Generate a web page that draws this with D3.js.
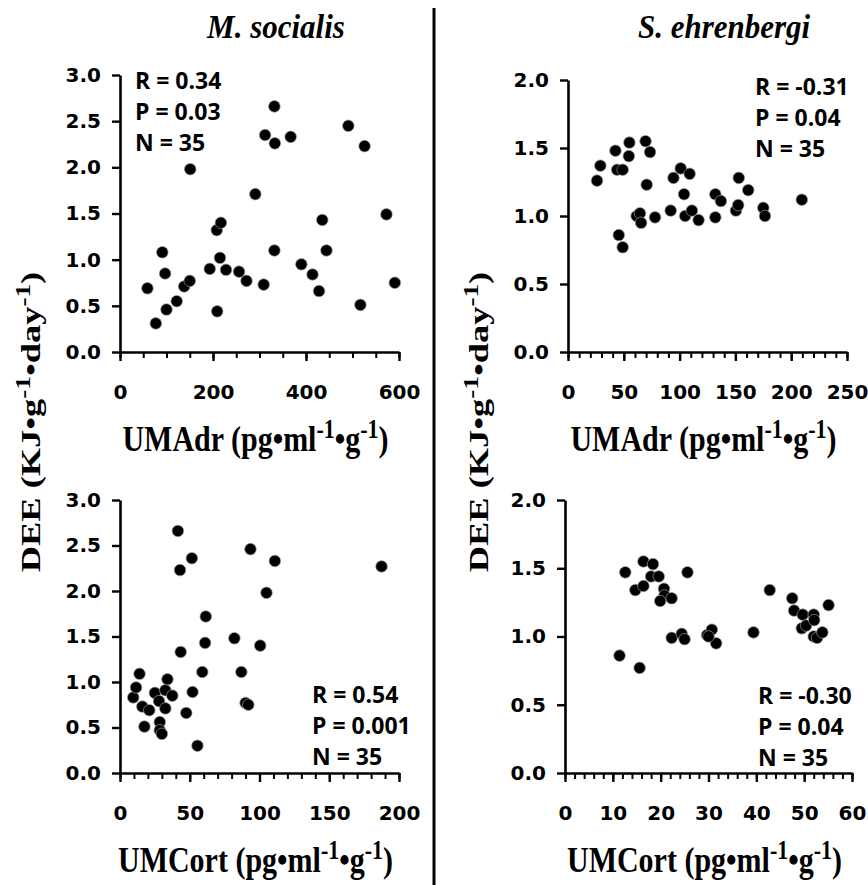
<!DOCTYPE html>
<html>
<head>
<meta charset="utf-8">
<script src="https://cdn.jsdelivr.net/npm/d3@7"></script>
<style>
    body { margin: 0; background: #fff; }
    svg text { fill: #000; }
</style>
</head>
<body>
<div id="chart_div"></div>
<script>
// data: [UM value, DEE]
const socialisAdr = [
    [59, 0.69], [77, 0.31], [91, 1.08], [97, 0.85], [100, 0.46], [122, 0.55], [138, 0.71],
    [150, 0.77], [151, 1.98], [193, 0.90], [208, 1.32], [209, 0.44], [217, 1.40], [215, 1.02],
    [228, 0.89], [256, 0.87], [272, 0.77], [291, 1.71], [309, 0.73], [312, 2.35], [332, 2.66],
    [333, 2.26], [332, 1.10], [367, 2.33], [390, 0.95], [414, 0.84], [428, 0.66], [435, 1.43],
    [444, 1.10], [491, 2.45], [517, 0.51], [526, 2.23], [573, 1.49], [591, 0.75]
];
const ehrenbergiAdr = [
    [26, 1.26], [29, 1.37], [42.5, 1.48], [44, 1.34], [49, 1.34], [45.5, 0.86], [49, 0.77],
    [55, 1.54], [54.5, 1.44], [61.5, 1.00], [64.5, 1.02], [65.5, 0.95], [69.5, 1.55], [73.5, 1.47],
    [70.5, 1.23], [78, 0.99], [92, 1.04], [94.5, 1.28], [101, 1.35], [109, 1.31], [104, 1.16],
    [105, 1.00], [111, 1.04], [117, 0.97], [132, 1.16], [137, 1.11], [132, 0.99], [150.5, 1.04],
    [152.5, 1.08], [153, 1.28], [161.5, 1.19], [175, 1.06], [176.5, 1.00], [209.5, 1.12]
];
const socialisCort = [
    [9.5, 0.83], [11.5, 0.94], [14, 1.09], [16, 0.73], [17.5, 0.51], [21, 0.69], [25, 0.88],
    [28, 0.79], [28.5, 0.56], [28.5, 0.47], [30, 0.43], [32.5, 0.71], [32.5, 0.91], [34, 1.03],
    [37.5, 0.85], [41.5, 2.66], [43, 2.23], [43.5, 1.33], [47.5, 0.66], [51.5, 2.36], [52, 0.89],
    [55.5, 0.30], [59, 1.11], [61, 1.43], [61.5, 1.72], [82, 1.48], [87, 1.11], [90, 0.77],
    [92, 0.75], [93.5, 2.46], [100.5, 1.40], [105, 1.98], [111, 2.33], [187.5, 2.27]
];
const ehrenbergiCort = [
    [11.4, 0.86], [12.6, 1.47], [14.7, 1.34], [15.6, 0.77], [16.4, 1.55], [16.4, 1.37], [18.0, 1.44],
    [18.4, 1.53], [19.6, 1.44], [20.7, 1.35], [20.8, 1.30], [19.9, 1.26], [22.3, 1.28], [22.3, 0.99],
    [24.4, 1.02], [25.0, 0.98], [25.6, 1.47], [29.7, 1.01], [30.7, 1.05], [31.6, 0.95], [30.0, 1.00],
    [39.4, 1.03], [42.8, 1.34], [47.5, 1.28], [47.9, 1.19], [49.7, 1.16], [49.5, 1.06], [50.4, 1.08],
    [52.0, 1.16], [52.1, 1.12], [52.0, 1.00], [52.7, 0.99], [53.8, 1.03], [55.1, 1.23]
];

const titles = ["M. socialis", "S. ehrenbergi"];
const statsSocialisAdr = ["R = 0.34", "P = 0.03", "N = 35"];
const statsEhrenbergiAdr = ["R = -0.31", "P = 0.04", "N = 35"];
const statsSocialisCort = ["R = 0.54", "P = 0.001", "N = 35"];
const statsEhrenbergiCort = ["R = -0.30", "P = 0.04", "N = 35"];

const width = 868;
const height = 885;

const panels = [
    { data: socialisAdr, stats: statsSocialisAdr, xMax: 600, minor: 50, major: 200, yMax: 3,
      x0: 120, x1: 399, y0: 352, y1: 75, statX: 135, statY: 89, label: "UMAdr" },
    { data: ehrenbergiAdr, stats: statsEhrenbergiAdr, xMax: 250, minor: 10, major: 50, yMax: 2,
      x0: 568, x1: 847, y0: 352, y1: 80, statX: 755, statY: 95, label: "UMAdr" },
    { data: socialisCort, stats: statsSocialisCort, xMax: 200, minor: 10, major: 50, yMax: 3,
      x0: 120, x1: 399, y0: 773, y1: 500, statX: 312, statY: 703, label: "UMCort" },
    { data: ehrenbergiCort, stats: statsEhrenbergiCort, xMax: 60, minor: 2, major: 10, yMax: 2,
      x0: 565, x1: 852, y0: 773, y1: 500, statX: 758, statY: 704, label: "UMCort" }
];

const svg = d3.select("#chart_div")
    .append("svg")
    .attr("width", width)
    .attr("height", height);

// divider + titles
svg.append("line")
    .attr("x1", 434).attr("x2", 434)
    .attr("y1", 8).attr("y2", height)
    .attr("stroke", "#000")
    .attr("stroke-width", 3);

svg.selectAll(".title")
    .data(titles)
    .enter()
    .append("text")
    .attr("class", "title")
    .attr("transform", (d, i) => `translate(${i === 0 ? 276 : 724},38) scale(1,1.1)`)
    .attr("text-anchor", "middle")
    .style("font-family", "'Liberation Serif', 'Times New Roman', serif")
    .style("font-weight", "bold")
    .style("font-style", "italic")
    .style("font-size", "31px")
    .text(d => d);

const tickFont = (sel) => sel.selectAll("text")
    .style("font-family", "'DejaVu Sans', sans-serif")
    .style("font-weight", "bold")
    .style("font-size", "20px");

panels.forEach(p => {
    const x = d3.scaleLinear().domain([0, p.xMax]).range([p.x0, p.x1]);
    const y = d3.scaleLinear().domain([0, p.yMax]).range([p.y0, p.y1]);
    const g = svg.append("g");

    // minor x ticks
    g.append("g")
        .attr("transform", `translate(0,${p.y0})`)
        .call(d3.axisBottom(x).tickValues(d3.range(0, p.xMax + 0.001, p.minor)).tickSize(6).tickSizeOuter(0).tickFormat(""))
        .call(a => a.select(".domain").remove())
        .call(a => a.selectAll("line").attr("stroke-width", 2));

    // major x ticks with labels
    g.append("g")
        .attr("transform", `translate(0,${p.y0})`)
        .call(d3.axisBottom(x).tickValues(d3.range(0, p.xMax + 0.001, p.major)).tickSize(9).tickSizeOuter(0).tickPadding(24).tickFormat(d3.format("d")))
        .call(a => a.select(".domain").attr("stroke-width", 2.6))
        .call(a => a.selectAll("line").attr("stroke-width", 2.4))
        .call(tickFont);

    // y axis
    g.append("g")
        .attr("transform", `translate(${p.x0},0)`)
        .call(d3.axisLeft(y).tickValues(d3.range(0, p.yMax + 0.001, 0.5)).tickSize(8).tickSizeOuter(0).tickPadding(11).tickFormat(d3.format(".1f")))
        .call(a => a.select(".domain").attr("stroke-width", 2.6))
        .call(a => a.selectAll("line").attr("stroke-width", 2.4))
        .call(tickFont);

    // points
    g.append("g")
        .selectAll("circle")
        .data(p.data)
        .enter()
        .append("circle")
        .attr("cx", d => x(d[0]))
        .attr("cy", d => y(d[1]))
        .attr("r", 5.8)
        .attr("fill", "#000")
        .attr("stroke", "#9a9a9a")
        .attr("stroke-width", 0.7);

    // R / P / N
    g.append("g")
        .selectAll("text")
        .data(p.stats)
        .enter()
        .append("text")
        .attr("x", p.statX)
        .attr("y", (d, i) => p.statY + i * 31)
        .style("font-family", "'Open Sans', sans-serif")
        .style("font-weight", "bold")
        .style("font-size", "23px")
        .text(d => d);

    // x label
    const lab = g.append("text")
        .attr("transform", `translate(${(p.x0 + p.x1) / 2 - 4},${p.y0 + 99}) scale(1,1.2)`)
        .attr("text-anchor", "middle")
        .style("font-family", "'Liberation Serif', 'Times New Roman', serif")
        .style("font-weight", "bold")
        .style("font-size", "30px");
    lab.append("tspan").text(p.label + " (pg\u2022ml");
    lab.append("tspan").attr("dy", -11).style("font-size", "22px").text("-1");
    lab.append("tspan").attr("dy", 11).text("\u2022g");
    lab.append("tspan").attr("dy", -11).style("font-size", "22px").text("-1");
    lab.append("tspan").attr("dy", 11).text(")");
});

// shared y labels, one per column
[31, 479].forEach(cx => {
    const t = svg.append("text")
        .attr("transform", `translate(${cx + 9},422) rotate(-90) scale(1.3,1)`)
        .attr("text-anchor", "middle")
        .style("font-family", "'Liberation Serif', 'Times New Roman', serif")
        .style("font-weight", "bold")
        .style("font-size", "28px");
    t.append("tspan").text("DEE (KJ\u2022g");
    t.append("tspan").attr("dy", -10).style("font-size", "21px").text("-1");
    t.append("tspan").attr("dy", 10).text("\u2022day");
    t.append("tspan").attr("dy", -10).style("font-size", "21px").text("-1");
    t.append("tspan").attr("dy", 10).text(")");
});
</script>
</body>
</html>
